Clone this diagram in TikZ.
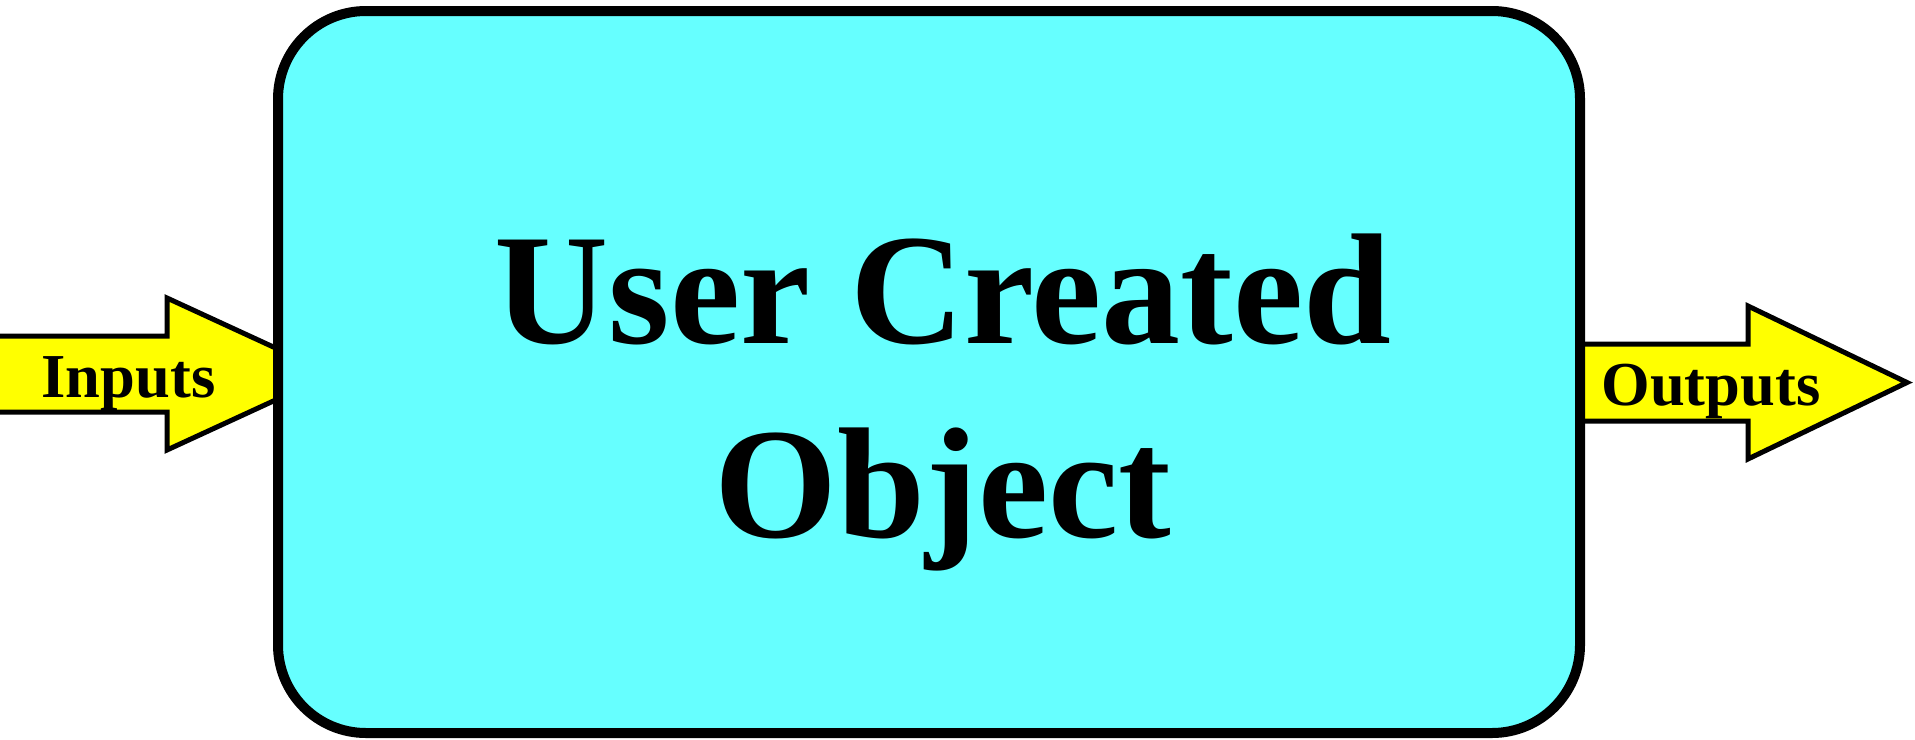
\documentclass[tikz,border=0pt]{standalone}
\usepackage{fontspec}
\setmainfont{Liberation Serif}
\definecolor{boxcyan}{HTML}{66FFFF}
\definecolor{arrowyellow}{HTML}{FFFF00}
\begin{document}
\begin{tikzpicture}[x=0.5pt,y=-0.5pt,
  blockarrow/.style={draw=black, fill=arrowyellow, line width=2.5pt, line join=miter},
  objbox/.style={draw=black, fill=boxcyan, line width=5pt, rounded corners=44pt,
    minimum width=651pt, minimum height=361pt, inner sep=0pt},
  bigtext/.style={font=\fontsize{79}{95}\selectfont\bfseries, inner sep=0pt, anchor=base},
  arrowtext/.style={font=\fontsize{31.25}{38}\selectfont\bfseries, inner sep=0pt, anchor=base}]
\useasboundingbox (0,0) rectangle (1915,739);
% input arrow
\draw[blockarrow] (-20,336) -- (167,336) -- (167,298) -- (332,374) -- (167,450) -- (167,412) -- (-20,412) -- cycle;
% output arrow
\draw[blockarrow] (1560,344) -- (1748,344) -- (1748,306) -- (1907,382.5) -- (1748,459) -- (1748,421) -- (1560,421) -- cycle;
% main box
\node[objbox] (box) at (929,372) {};
\node[bigtext] (line1) at (943,343) {User Created};
\node[bigtext] (line2) at (943,537) {Object};
\node[arrowtext] (inputs) at (128.5,397) {Inputs};
\node[arrowtext] (outputs) at (1711,405) {Outputs};
\end{tikzpicture}
\end{document}
